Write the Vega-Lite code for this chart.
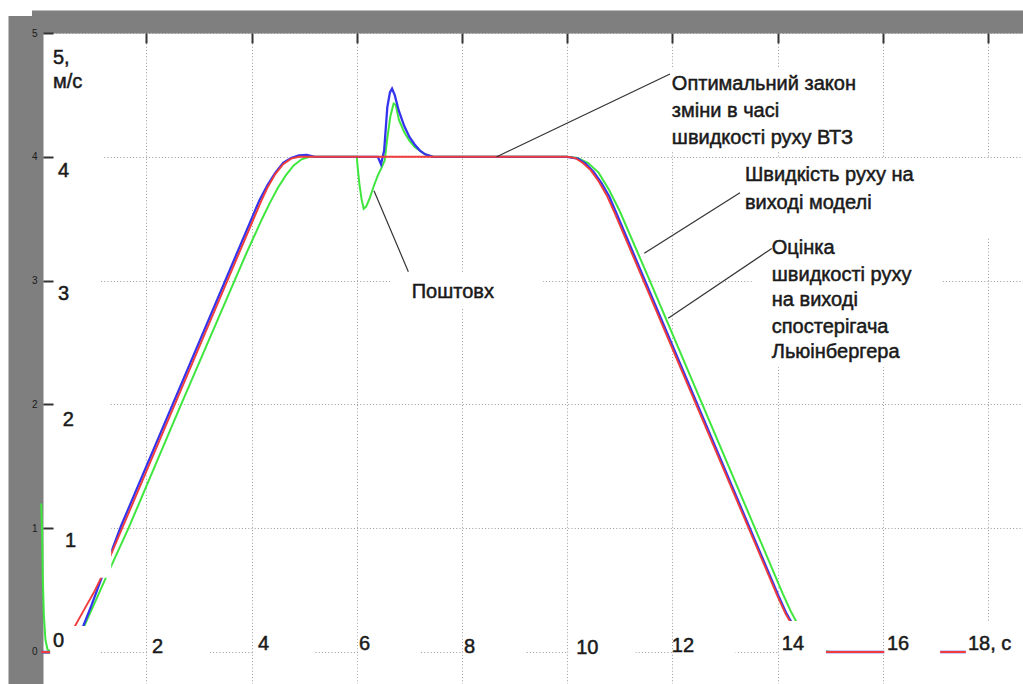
{
  "$schema": "https://vega.github.io/schema/vega-lite/v6.json",
  "width": 980,
  "height": 651,
  "autosize": {"type": "none"},
  "padding": {"left": 43, "top": 33, "right": 0, "bottom": 0},
  "background": "white",
  "config": {"view": {"fill": "white", "stroke": null}},
  "resolve": {"axis": {"x": "independent", "y": "independent"}},
  "datasets": {
    "red": [
      {"t": 0, "v": 0}, {"t": 0.2, "v": 0}, {"t": 0.35, "v": 0.03}, {"t": 0.5, "v": 0.1}, {"t": 0.63, "v": 0.2},
      {"t": 0.8, "v": 0.33}, {"t": 1.0, "v": 0.48}, {"t": 1.14, "v": 0.6}, {"t": 1.56, "v": 1.02}, {"t": 2.54, "v": 2.0},
      {"t": 4.18, "v": 3.64}, {"t": 4.3, "v": 3.75}, {"t": 4.45, "v": 3.86}, {"t": 4.6, "v": 3.94}, {"t": 4.75, "v": 3.985},
      {"t": 4.9, "v": 4.0}, {"t": 10.0, "v": 4.0}, {"t": 10.15, "v": 3.99}, {"t": 10.3, "v": 3.95}, {"t": 10.45, "v": 3.89},
      {"t": 10.6, "v": 3.8}, {"t": 10.75, "v": 3.69}, {"t": 10.9, "v": 3.55}, {"t": 14.0, "v": 0.45}, {"t": 14.15, "v": 0.31},
      {"t": 14.3, "v": 0.2}, {"t": 14.45, "v": 0.11}, {"t": 14.6, "v": 0.05}, {"t": 14.75, "v": 0.01}, {"t": 14.9, "v": 0},
      {"t": 18.7, "v": 0}
    ],
    "blue": [
      {"t": 0, "v": 0}, {"t": 0.4, "v": 0}, {"t": 0.55, "v": 0.03}, {"t": 0.7, "v": 0.12}, {"t": 0.8, "v": 0.21},
      {"t": 0.95, "v": 0.37}, {"t": 1.15, "v": 0.6}, {"t": 1.52, "v": 1.02}, {"t": 2.5, "v": 2.0}, {"t": 4.15, "v": 3.65},
      {"t": 4.3, "v": 3.77}, {"t": 4.45, "v": 3.87}, {"t": 4.6, "v": 3.95}, {"t": 4.75, "v": 3.99}, {"t": 4.9, "v": 4.012},
      {"t": 5.05, "v": 4.015}, {"t": 5.2, "v": 4.0}, {"t": 6.4, "v": 4.0}, {"t": 6.46, "v": 3.94},
      {"t": 6.52, "v": 4.05}, {"t": 6.58, "v": 4.4}, {"t": 6.63, "v": 4.52}, {"t": 6.67, "v": 4.55}, {"t": 6.72, "v": 4.5},
      {"t": 6.8, "v": 4.37}, {"t": 6.9, "v": 4.25}, {"t": 7.0, "v": 4.16}, {"t": 7.1, "v": 4.1}, {"t": 7.2, "v": 4.05},
      {"t": 7.3, "v": 4.02}, {"t": 7.45, "v": 4.0}, {"t": 10.0, "v": 4.0}, {"t": 10.2, "v": 3.985}, {"t": 10.35, "v": 3.945},
      {"t": 10.5, "v": 3.88}, {"t": 10.65, "v": 3.79}, {"t": 10.8, "v": 3.68}, {"t": 10.95, "v": 3.53}, {"t": 14.02, "v": 0.45},
      {"t": 14.17, "v": 0.31}, {"t": 14.32, "v": 0.2}, {"t": 14.47, "v": 0.11}, {"t": 14.62, "v": 0.05}, {"t": 14.77, "v": 0.01},
      {"t": 14.92, "v": 0}, {"t": 18.7, "v": 0}
    ],
    "green": [
      {"t": 0, "v": 1.2}, {"t": 0.015, "v": 1.0}, {"t": 0.03, "v": 0.6}, {"t": 0.05, "v": 0.3}, {"t": 0.08, "v": 0.1},
      {"t": 0.12, "v": 0.02}, {"t": 0.2, "v": 0}, {"t": 0.45, "v": 0}, {"t": 0.6, "v": 0.07}, {"t": 0.72, "v": 0.15},
      {"t": 0.83, "v": 0.22}, {"t": 1.0, "v": 0.38}, {"t": 1.23, "v": 0.6}, {"t": 1.66, "v": 1.0}, {"t": 2.64, "v": 1.98},
      {"t": 3.9, "v": 3.22}, {"t": 4.05, "v": 3.36}, {"t": 4.2, "v": 3.5}, {"t": 4.35, "v": 3.63}, {"t": 4.5, "v": 3.75},
      {"t": 4.65, "v": 3.85}, {"t": 4.8, "v": 3.93}, {"t": 4.95, "v": 3.98}, {"t": 5.1, "v": 4.0}, {"t": 6.0, "v": 4.0},
      {"t": 6.02, "v": 3.9}, {"t": 6.05, "v": 3.78}, {"t": 6.09, "v": 3.66}, {"t": 6.13, "v": 3.58}, {"t": 6.18, "v": 3.6},
      {"t": 6.25, "v": 3.67}, {"t": 6.32, "v": 3.76}, {"t": 6.4, "v": 3.85}, {"t": 6.48, "v": 3.92}, {"t": 6.53, "v": 3.97},
      {"t": 6.58, "v": 4.15}, {"t": 6.64, "v": 4.33}, {"t": 6.7, "v": 4.43}, {"t": 6.74, "v": 4.42}, {"t": 6.8, "v": 4.3},
      {"t": 6.9, "v": 4.2}, {"t": 7.0, "v": 4.13}, {"t": 7.1, "v": 4.08}, {"t": 7.2, "v": 4.05}, {"t": 7.3, "v": 4.02},
      {"t": 7.45, "v": 4.0}, {"t": 10.0, "v": 4.0}, {"t": 10.2, "v": 3.99}, {"t": 10.4, "v": 3.95}, {"t": 10.6, "v": 3.87},
      {"t": 10.8, "v": 3.73}, {"t": 11.0, "v": 3.56}, {"t": 11.57, "v": 3.0}, {"t": 14.1, "v": 0.47}, {"t": 14.25, "v": 0.33},
      {"t": 14.4, "v": 0.21}, {"t": 14.55, "v": 0.11}, {"t": 14.7, "v": 0.05}, {"t": 14.85, "v": 0.01}, {"t": 15.0, "v": 0},
      {"t": 18.7, "v": 0}
    ],
    "boxes": [
      {"t": 0.24, "t2": 1.17, "v": 4.13, "v2": 3.77},
      {"t": 0.24, "t2": 1.12, "v": 3.1, "v2": 2.78},
      {"t": 0.24, "t2": 1.31, "v": 2.1, "v2": 1.78},
      {"t": 0.24, "t2": 1.33, "v": 1.23, "v2": 0.6},
      {"t": 0.17, "t2": 1.12, "v": 0.21, "v2": -0.26},
      {"t": 2.02, "t2": 3.21, "v": 0.25, "v2": -0.26},
      {"t": 4.03, "t2": 5.2, "v": 0.25, "v2": -0.26},
      {"t": 6.02, "t2": 7.2, "v": 0.25, "v2": -0.26},
      {"t": 8.02, "t2": 9.2, "v": 0.25, "v2": -0.26},
      {"t": 10.02, "t2": 11.3, "v": 0.25, "v2": -0.26},
      {"t": 12.02, "t2": 13.2, "v": 0.25, "v2": -0.26},
      {"t": 14.03, "t2": 14.92, "v": 0.25, "v2": -0.26},
      {"t": 16.03, "t2": 17.09, "v": 0.25, "v2": -0.26},
      {"t": 17.58, "t2": 18.7, "v": 0.25, "v2": -0.26},
      {"t": 11.9, "t2": 15.85, "v": 4.717, "v2": 4.055},
      {"t": 13.285, "t2": 18.7, "v": 3.99, "v2": 3.352},
      {"t": 13.51, "t2": 17.13, "v": 3.344, "v2": 2.302},
      {"t": 6.63, "t2": 9.54, "v": 3.053, "v2": 2.779}
    ],
    "leaders": [
      {"t": 8.66, "v": 4.0, "t2": 11.955, "v2": 4.669},
      {"t": 6.327, "v": 3.726, "t2": 6.98, "v2": 3.072},
      {"t": 11.466, "v": 3.22, "t2": 13.285, "v2": 3.71},
      {"t": 11.92, "v": 2.695, "t2": 13.89, "v2": 3.26}
    ],
    "texts": [
      {"t": 0.224, "v": 4.75, "label": "5,"},
      {"t": 0.224, "v": 4.556, "label": "м/с"},
      {"t": 0.32, "v": 3.837, "label": "4"},
      {"t": 0.32, "v": 2.843, "label": "3"},
      {"t": 0.41, "v": 1.826, "label": "2"},
      {"t": 0.45, "v": 0.848, "label": "1"},
      {"t": 0.224, "v": 0.04, "label": "0"},
      {"t": 2.106, "v": -0.008, "label": "2"},
      {"t": 4.12, "v": 0.016, "label": "4"},
      {"t": 6.04, "v": 0.02, "label": "6"},
      {"t": 8.04, "v": -0.01, "label": "8"},
      {"t": 10.17, "v": -0.015, "label": "10"},
      {"t": 11.99, "v": 0.0, "label": "12"},
      {"t": 14.08, "v": 0.016, "label": "14"},
      {"t": 16.08, "v": 0.016, "label": "16"},
      {"t": 17.62, "v": 0.016, "label": "18, с"},
      {"t": 11.99, "v": 4.54, "label": "Оптимальний закон"},
      {"t": 11.99, "v": 4.321, "label": "зміни в часі"},
      {"t": 11.99, "v": 4.103, "label": "швидкості руху ВТЗ"},
      {"t": 13.38, "v": 3.805, "label": "Швидкість руху на"},
      {"t": 13.38, "v": 3.578, "label": "виході моделі"},
      {"t": 13.89, "v": 3.215, "label": "Оцінка"},
      {"t": 13.89, "v": 2.997, "label": "швидкості руху"},
      {"t": 13.89, "v": 2.795, "label": "на виході"},
      {"t": 13.89, "v": 2.577, "label": "спостерігача"},
      {"t": 13.89, "v": 2.375, "label": "Льюінбергера"},
      {"t": 7.044, "v": 2.859, "label": "Поштовх"}
    ]
  },
  "encoding": {
    "x": {"field": "t", "type": "quantitative", "scale": {"domain": [0.034, 18.666], "nice": false, "zero": false}, "axis": null},
    "y": {"field": "v", "type": "quantitative", "scale": {"domain": [-0.2585, 5], "nice": false, "zero": false}, "axis": null}
  },
  "layer": [
    {
      "data": {"name": "green"},
      "mark": {"type": "line", "color": "#3ee63e", "strokeWidth": 2},
      "encoding": {
        "x": {
          "field": "t", "type": "quantitative", "scale": {"domain": [0.034, 18.666], "nice": false, "zero": false},
          "axis": {"orient": "top", "offset": 11.5, "title": null, "labels": false, "ticks": false, "grid": false,
                   "domain": true, "domainColor": "#7f7f7f", "domainWidth": 23, "domainCap": "square"}
        },
        "y": {
          "field": "v", "type": "quantitative", "scale": {"domain": [-0.2585, 5], "nice": false, "zero": false},
          "axis": {"orient": "left", "offset": 17.5, "title": null, "labels": false, "ticks": false, "grid": false,
                   "domain": true, "domainColor": "#7f7f7f", "domainWidth": 35, "domainCap": "square"}
        }
      }
    },
    {
      "data": {"name": "blue"},
      "mark": {"type": "line", "color": "#3434ee", "strokeWidth": 2.3},
      "encoding": {
        "x": {
          "field": "t", "type": "quantitative", "scale": {"domain": [0.034, 18.666], "nice": false, "zero": false},
          "axis": {
            "orient": "top", "values": [2, 4, 6, 8, 10, 12, 14, 16, 18], "title": null,
            "labels": false, "domain": false, "grid": true, "gridColor": "#9a9a9a", "gridDash": [1, 2.2], "gridWidth": 1,
            "ticks": true, "tickSize": -10, "tickColor": "#333333", "tickWidth": 2
          }
        },
        "y": {
          "field": "v", "type": "quantitative", "scale": {"domain": [-0.2585, 5], "nice": false, "zero": false},
          "axis": {
            "orient": "left", "values": [0, 1, 2, 3, 4, 5], "title": null,
            "domain": false, "grid": true, "gridColor": "#9a9a9a", "gridDash": [1, 2.2], "gridWidth": 1,
            "ticks": true, "tickSize": -10, "tickColor": "#333333", "tickWidth": 2,
            "labelPadding": 16, "labelFont": "Liberation Sans", "labelFontSize": 10, "labelColor": "#1a1a1a",
            "labelOverlap": false, "labelBound": false, "labelFlush": false
          }
        }
      }
    },
    {"data": {"name": "red"}, "mark": {"type": "line", "color": "#f03c3c", "strokeWidth": 1.9}},
    {
      "data": {"name": "boxes"},
      "mark": {"type": "rect", "color": "white", "opacity": 1},
      "encoding": {"x2": {"field": "t2"}, "y2": {"field": "v2"}}
    },
    {
      "data": {"name": "leaders"},
      "mark": {"type": "rule", "color": "#333333", "strokeWidth": 1.2},
      "encoding": {"x2": {"field": "t2"}, "y2": {"field": "v2"}}
    },
    {
      "data": {"name": "texts"},
      "mark": {"type": "text", "align": "left", "baseline": "alphabetic", "font": "Liberation Sans", "fontSize": 20,
               "color": "#1a1a1a", "stroke": "#1a1a1a", "strokeWidth": 0.5},
      "encoding": {"text": {"field": "label"}}
    }
  ]
}
